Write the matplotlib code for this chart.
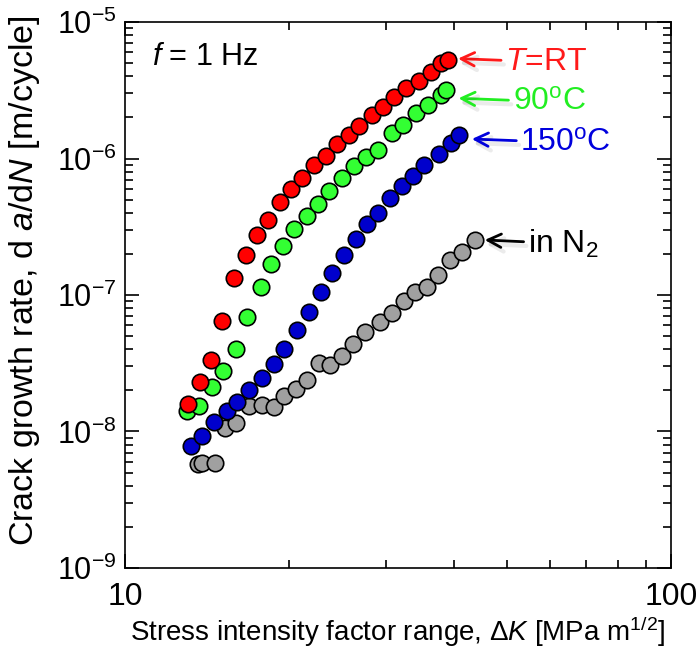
import numpy as np
import matplotlib.pyplot as plt
import matplotlib.patheffects as pe
from matplotlib.ticker import FuncFormatter, NullFormatter, LogLocator
from matplotlib.transforms import ScaledTranslation

plt.rcParams['font.family'] = ['Liberation Sans', 'DejaVu Sans']
plt.rcParams['mathtext.fontset'] = 'custom'
plt.rcParams['mathtext.rm'] = 'Liberation Sans'
plt.rcParams['mathtext.it'] = 'Liberation Sans:italic'

# Данные: dK [MPa m^1/2], da/dN [m/cycle]
dk_rt = [13.06, 13.72, 14.37, 15.06, 15.84, 16.66, 17.43, 18.25, 19.22, 20.12, 21.12, 22.22,
         23.32, 24.48, 25.75, 26.86, 28.30, 29.72, 31.13, 32.71, 34.55, 36.34, 37.91, 39.09]
da_rt = [1.59e-8, 2.32e-8, 3.34e-8, 6.48e-8, 1.33e-7, 1.96e-7, 2.75e-7, 3.54e-7, 4.78e-7, 5.98e-7,
         7.23e-7, 8.96e-7, 1.04e-6, 1.28e-6, 1.49e-6, 1.74e-6, 2.08e-6, 2.37e-6, 2.84e-6, 3.30e-6,
         3.70e-6, 4.32e-6, 4.98e-6, 5.27e-6]

dk_90 = [12.97, 13.66, 14.41, 15.14, 15.95, 16.75, 17.72, 18.48, 19.45, 20.40, 21.51, 22.54,
         23.67, 24.94, 26.30, 27.63, 29.03, 30.79, 32.34, 34.07, 35.93, 37.91, 38.71]
da_90 = [1.41e-8, 1.55e-8, 2.11e-8, 2.79e-8, 4.0e-8, 6.93e-8, 1.14e-7, 1.68e-7, 2.29e-7, 3.03e-7,
         3.79e-7, 4.62e-7, 5.78e-7, 7.16e-7, 8.81e-7, 1.03e-6, 1.15e-6, 1.53e-6, 1.76e-6, 2.14e-6,
         2.47e-6, 2.92e-6, 3.18e-6]

dk_150 = [13.21, 13.85, 14.57, 15.36, 16.02, 16.89, 17.80, 18.74, 19.58, 20.63, 21.73, 22.83,
          23.91, 25.18, 26.49, 27.78, 29.10, 30.57, 32.20, 33.73, 35.29, 37.64, 39.55, 40.96]
da_150 = [7.83e-9, 9.31e-9, 1.17e-8, 1.41e-8, 1.65e-8, 2.01e-8, 2.48e-8, 3.12e-8, 4.02e-8, 5.54e-8,
          7.47e-8, 1.05e-7, 1.46e-7, 1.96e-7, 2.56e-7, 3.31e-7, 3.97e-7, 5.16e-7, 6.32e-7, 7.44e-7,
          8.96e-7, 1.07e-6, 1.29e-6, 1.49e-6]

dk_n2 = [13.59, 13.82, 14.62, 15.24, 15.97, 16.89, 17.80, 18.74, 19.55, 20.57, 21.57, 22.69,
         23.74, 24.94, 26.12, 27.51, 29.31, 30.79, 32.43, 33.97, 35.69, 37.48, 39.37, 41.38, 43.75]
da_n2 = [5.75e-9, 5.85e-9, 5.91e-9, 1.06e-8, 1.16e-8, 1.54e-8, 1.56e-8, 1.52e-8, 1.83e-8, 2.04e-8,
         2.38e-8, 3.16e-8, 3.07e-8, 3.57e-8, 4.38e-8, 5.38e-8, 6.31e-8, 7.34e-8, 9.04e-8, 1.06e-7,
         1.14e-7, 1.41e-7, 1.82e-7, 2.08e-7, 2.53e-7]

series = [
    (dk_n2, da_n2, '#a0a0a0'),
    (dk_150, da_150, '#0000cc'),
    (dk_90, da_90, '#33ff33'),
    (dk_rt, da_rt, '#ff0000'),
]

fig = plt.figure(figsize=(6.99, 6.51), dpi=100)
ax = fig.add_axes([0.1788, 0.1275, 0.7812, 0.8387])

for dk, da, c in series:
    ax.scatter(dk, da, s=140, c=c, edgecolors='black', linewidths=1.2, zorder=3)

ax.set_xscale('log')
ax.set_yscale('log')
ax.set_xlim(10, 100)
ax.set_ylim(1e-9, 1e-5)

ax.xaxis.set_major_formatter(FuncFormatter(lambda v, p: f'{v:g}'))
ax.xaxis.set_minor_formatter(NullFormatter())
ax.yaxis.set_major_formatter(FuncFormatter(lambda v, p: r'$10^{%d}$' % round(np.log10(v))))
ax.yaxis.set_minor_locator(LogLocator(base=10, subs=np.arange(2, 10), numticks=20))
ax.yaxis.set_minor_formatter(NullFormatter())

ax.tick_params(which='both', direction='in', top=True, right=True, width=1.2)
ax.tick_params(which='major', length=10)
ax.tick_params(which='minor', length=6)
ax.tick_params(axis='x', labelsize=23, pad=10)
ax.tick_params(axis='y', labelsize=22, pad=6)
for s in ax.spines.values():
    s.set_linewidth(1.2)

ax.set_xlabel(r'Stress intensity factor range, $\Delta$$\it{K}$ [MPa m$^{1/2}$]', fontsize=20, labelpad=2)
ax.set_ylabel(r'Crack growth rate, d $\it{a}$/d$\it{N}$ [m/cycle]', fontsize=24.5)
ax.yaxis.set_label_coords(-0.152, 0.527)

ax.text(0.05, 0.935, r'$\it{f}$ = 1 Hz', transform=ax.transAxes, fontsize=22, va='center')

shadow = [pe.SimpleLineShadow(offset=(2, -3), alpha=0.08, linewidth=3), pe.Normal()]
# подписи: текст, цвет, точка, смещение острия стрелки и текста (pt)
labels = [
    (r'$\it{T}$=RT', '#ff1a1a', dk_rt[-1], da_rt[-1], (7, 1), (41, 1)),
    (r'90$^{\rm o}$C', '#22ee22', dk_90[-1], da_90[-1], (9, -6), (48, -6)),
    (r'150$^{\rm o}$C', '#0000dd', dk_150[-1], da_150[-1], (9, -3), (44, -3)),
    (r'in N$_2$', 'black', dk_n2[-1], da_n2[-1], (7, 0), (38, 0)),
]
for txt, c, x0, y0, tip, pos in labels:
    tip_tr = ax.transData + ScaledTranslation(tip[0] / 72, tip[1] / 72, fig.dpi_scale_trans)
    txt_tr = ax.transData + ScaledTranslation(pos[0] / 72, pos[1] / 72, fig.dpi_scale_trans)
    ax.annotate(txt, xy=(x0, y0), xycoords=tip_tr, xytext=(x0, y0), textcoords=txt_tr,
                fontsize=23, color=c, va='center_baseline', ha='left',
                arrowprops=dict(arrowstyle='->', color=c, lw=2, shrinkA=1, shrinkB=0,
                                mutation_scale=24, path_effects=shadow))

fig.savefig('out.png', dpi=100)
plt.close()
